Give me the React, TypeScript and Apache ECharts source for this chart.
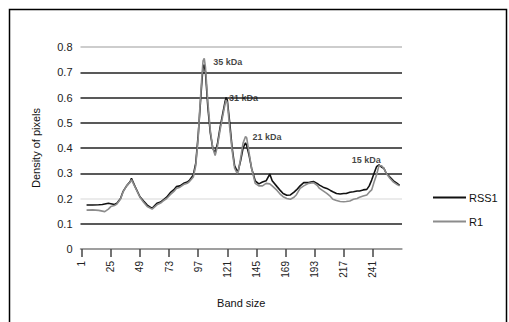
import React, { useEffect, useRef } from "react";
import * as echarts from "echarts";

// Lane positions (band index) and densities
const positions = [
  5, 10, 15, 18, 20, 23, 25, 28, 30, 33, 35, 38, 41, 42, 45, 49, 52, 55, 59, 63, 66, 68, 71, 74, 77, 79, 82, 85, 88, 90,
  93, 95, 97, 98, 100, 101, 102, 103, 105, 107, 109, 111, 113, 115, 117, 119, 120, 121, 123, 125, 127, 129, 130, 132, 134,
  136, 137, 139, 141, 144, 147, 150, 153, 156, 158, 162, 165, 167, 170, 173, 176, 178, 181, 184, 188, 192, 195, 197, 200,
  203, 206, 208, 211, 214, 217, 219, 222, 225, 228, 230, 233, 236, 238, 240, 242, 244, 246, 248, 250, 252, 255, 258, 261, 263,
];

const rss1Values = [
  0.174, 0.174, 0.175, 0.176, 0.178, 0.181, 0.179, 0.176, 0.181, 0.2, 0.227, 0.25, 0.267, 0.28, 0.247, 0.207, 0.19, 0.174,
  0.161, 0.181, 0.186, 0.194, 0.205, 0.223, 0.235, 0.247, 0.25, 0.26, 0.265, 0.273, 0.293, 0.34, 0.45, 0.52, 0.66, 0.72,
  0.73, 0.7, 0.56, 0.46, 0.4, 0.38, 0.42, 0.48, 0.53, 0.58, 0.6, 0.59, 0.5, 0.4, 0.33, 0.31, 0.31, 0.35, 0.4, 0.42, 0.41,
  0.37, 0.32, 0.27, 0.258, 0.265, 0.27, 0.297, 0.27, 0.247, 0.23, 0.22, 0.213, 0.214, 0.225, 0.234, 0.25, 0.263, 0.263,
  0.267, 0.26, 0.253, 0.245, 0.24, 0.232, 0.227, 0.22, 0.218, 0.22, 0.22, 0.225, 0.227, 0.23, 0.23, 0.234, 0.236, 0.25,
  0.273, 0.3, 0.326, 0.333, 0.325, 0.32, 0.3, 0.285, 0.27, 0.26, 0.252,
];

const r1Values = [
  0.154, 0.155, 0.153, 0.15, 0.148, 0.158, 0.168, 0.172, 0.178, 0.198, 0.225, 0.25, 0.265, 0.275, 0.245, 0.205, 0.185, 0.168,
  0.158, 0.175, 0.182, 0.19, 0.2, 0.215, 0.228, 0.24, 0.245, 0.255, 0.26, 0.268, 0.285, 0.33, 0.44, 0.53, 0.68, 0.745,
  0.755, 0.72, 0.58, 0.47, 0.4, 0.37, 0.41, 0.47, 0.52, 0.57, 0.59, 0.58, 0.48, 0.39, 0.32, 0.3, 0.305, 0.36, 0.42, 0.445,
  0.44, 0.38, 0.32, 0.26, 0.25, 0.25, 0.26, 0.258, 0.25, 0.232, 0.215, 0.207, 0.2, 0.197, 0.205, 0.215, 0.24, 0.25, 0.26,
  0.263, 0.252, 0.24, 0.23, 0.22, 0.208, 0.197, 0.192, 0.188, 0.187, 0.188, 0.19, 0.197, 0.2, 0.205, 0.21, 0.214, 0.225,
  0.234, 0.265, 0.293, 0.33, 0.33, 0.32, 0.3, 0.28, 0.265, 0.255, 0.25,
];

const xTickLabels = ["1", "25", "49", "73", "97", "121", "145", "169", "193", "217", "241"];
const yTickLabels = ["0", "0.1", "0.2", "0.3", "0.4", "0.5", "0.6", "0.7", "0.8"];

// Peak annotations
const peakX = [102, 120, 136, 245];
const peakY = [0.755, 0.6, 0.445, 0.333];
const peakText = ["35 kDa", "31 kDa", "21 kDa", "15 kDa"];

const seriesNames = ["RSS1", "R1"];

export default function App() {
  const ref = useRef<HTMLDivElement>(null);

  useEffect(() => {
    if (!ref.current) return;
    const chart = echarts.init(ref.current, null, { renderer: "svg" });
    const tickValues = xTickLabels.map(Number);
    const font = "Liberation Sans, Arial, sans-serif";
    const annotPos = ["right", "right", "right", "left"];
    const annotOffset = [
      [4, 4],
      [-2, 0],
      [2, 0],
      [8, -5],
    ];

    chart.setOption({
      animation: false,
      backgroundColor: "#fff",
      textStyle: { fontFamily: font },
      graphic: [
        {
          type: "rect",
          shape: { x: 9.5, y: 9.5, width: 497, height: 330 },
          style: { fill: "none", stroke: "#000", lineWidth: 1.5 },
          silent: true,
        },
      ],
      grid: { left: 80.5, right: 107, top: 47, bottom: 73 },
      legend: {
        orient: "vertical",
        left: 428,
        top: 187,
        icon: "rect",
        itemWidth: 33,
        itemHeight: 2,
        itemGap: 13,
        textStyle: { fontSize: 11, color: "#111", fontFamily: font, padding: [0, 0, 0, -2] },
        data: seriesNames,
      },
      xAxis: {
        type: "value",
        min: 0,
        max: 265,
        name: "Band size",
        nameLocation: "middle",
        nameGap: 48,
        nameTextStyle: { fontSize: 11, color: "#111" },
        axisLine: { show: true, lineStyle: { color: "#999", width: 1.5 } },
        axisTick: {
          show: true,
          customValues: tickValues,
          length: 8,
          lineStyle: { color: "#444", width: 1.5 },
        },
        axisLabel: {
          customValues: tickValues,
          formatter: (v: number) => xTickLabels[tickValues.indexOf(v)] ?? "",
          rotate: 90,
          margin: 12,
          fontSize: 10,
          color: "#222",
        },
        splitLine: { show: false },
      },
      yAxis: {
        type: "value",
        min: 0,
        max: 0.8,
        interval: 0.1,
        name: "Density of pixels",
        nameLocation: "middle",
        nameGap: 39,
        nameTextStyle: { fontSize: 11, color: "#111" },
        axisLine: { show: false },
        axisTick: { show: false },
        axisLabel: {
          margin: 8,
          fontSize: 11,
          color: "#222",
          formatter: (v: number) => yTickLabels[Math.round(v * 10)] ?? "",
        },
        splitLine: {
          show: true,
          lineStyle: {
            color: ["#999", "#222", "#e4e4e4", "#222", "#222", "#222", "#222", "#222", "#bdbdbd"],
            width: 1.5,
          },
        },
      },
      series: [
        {
          name: seriesNames[0],
          type: "line",
          symbol: "none",
          data: positions.map((p, i) => [p, rss1Values[i]]),
          lineStyle: { color: "#111", width: 1.6 },
          itemStyle: { color: "#111" },
          z: 3,
        },
        {
          name: seriesNames[1],
          type: "line",
          symbol: "none",
          data: positions.map((p, i) => [p, r1Values[i]]),
          lineStyle: { color: "#8c8c8c", width: 1.6 },
          itemStyle: { color: "#8c8c8c" },
          z: 4,
        },
        {
          name: "peaks",
          type: "scatter",
          symbolSize: 0,
          silent: true,
          z: 5,
          data: peakX.map((x, i) => ({
            value: [x, peakY[i]],
            label: {
              show: true,
              formatter: peakText[i],
              position: annotPos[i],
              offset: annotOffset[i],
              fontSize: 9,
              fontWeight: "bold",
              color: "#111",
            },
          })),
        },
      ],
    });

    return () => chart.dispose();
  }, []);

  return (
    <div
      ref={ref}
      style={{ position: "fixed", left: 0, top: 0, width: 509, height: 322 }}
    />
  );
}
